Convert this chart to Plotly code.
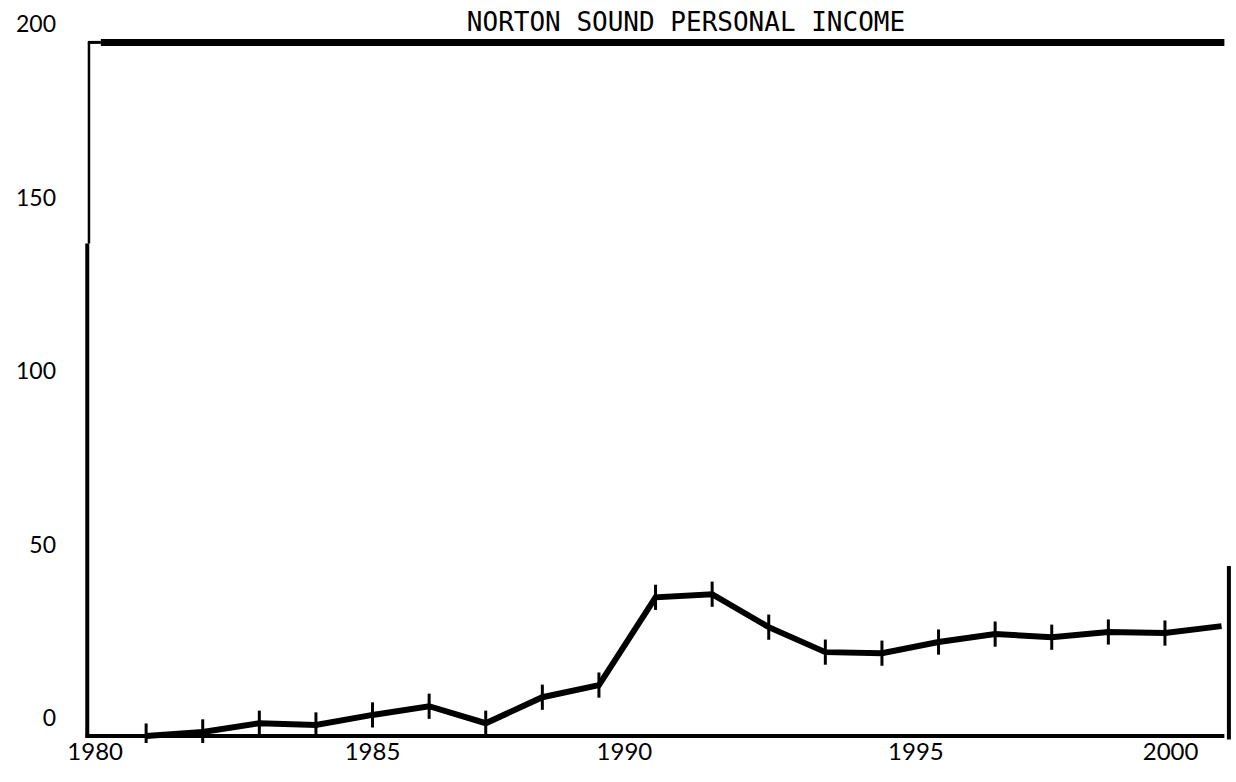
import plotly.graph_objects as go

# ---- data ----
years = [1981, 1982, 1983, 1984, 1985, 1986, 1987, 1988, 1989, 1990,
         1991, 1992, 1993, 1994, 1995, 1996, 1997, 1998, 1999, 2000]
income = [0.0, 1.2, 3.7, 3.2, 6.1, 8.6, 3.7, 11.2, 14.7, 40.0,
          40.9, 31.4, 24.2, 23.9, 27.1, 29.4, 28.5, 30.0, 29.7, 31.7]
y_ticks = [0, 50, 100, 150, 200]
y_tick_text = ["0", "50", "100", "150", "200"]
x_tick_text = ["1980", "1985", "1990", "1995", "2000"]
title_text = "NORTON SOUND PERSONAL INCOME"

# where the year labels sit under the axis in the original drawing
x_label_pos = [1980.1, 1985.0, 1989.45, 1994.6, 1999.1]

fig = go.Figure()
fig.add_trace(go.Scatter(
    x=years, y=income, mode="lines",
    line=dict(color="black", width=6),
    showlegend=False, hoverinfo="x+y",
))
# hand-drawn cross ticks on every plotted year except the final end point
fig.add_trace(go.Scatter(
    x=years[:-1], y=income[:-1], mode="markers",
    marker=dict(symbol="line-ns", size=18, line=dict(color="black", width=3)),
    showlegend=False, hoverinfo="skip",
))

black = "black"
shapes = [
    # top heavy rule
    dict(type="line", xref="x", yref="y", x0=1980.2, x1=2000.05, y0=200, y1=200,
         line=dict(color=black, width=7)),
    dict(type="line", xref="x", yref="y", x0=1979.97, x1=1980.2, y0=200, y1=200,
         line=dict(color=black, width=3)),
    # left axis: thin upper part, heavy lower part
    dict(type="line", xref="x", yref="y", x0=1979.99, x1=1979.99, y0=200, y1=142,
         line=dict(color=black, width=2.5)),
    dict(type="line", xref="x", yref="y", x0=1979.96, x1=1979.96, y0=142, y1=-0.5,
         line=dict(color=black, width=4)),
    # baseline
    dict(type="line", xref="x", yref="y", x0=1979.93, x1=2000.05, y0=0, y1=0,
         line=dict(color=black, width=4)),
    # right short rule
    dict(type="line", xref="x", yref="y", x0=2000.13, x1=2000.13, y0=49, y1=-1,
         line=dict(color=black, width=4)),
]

fig.update_layout(
    width=1236, height=782,
    margin=dict(l=85, r=2, t=32, b=39),
    paper_bgcolor="white", plot_bgcolor="white",
    shapes=shapes,
    title=dict(text=title_text, x=0.555, xanchor="center", y=0.972, yanchor="middle",
               font=dict(family="DejaVu Sans Mono", size=26, color="black")),
    xaxis=dict(range=[1979.92, 2000.22], showgrid=False, zeroline=False, showline=False,
               automargin=False,
               tickmode="array", tickvals=x_label_pos, ticktext=x_tick_text,
               ticks="", ticklabelstandoff=-8,
               tickfont=dict(family="Lato", size=24, color="black")),
    yaxis=dict(range=[-2, 203], showgrid=False, zeroline=False, showline=False,
               automargin=False,
               tickmode="array", tickvals=y_ticks, ticktext=y_tick_text,
               ticks="", ticklabelstandoff=28, ticklabelshift=-18,
               tickfont=dict(family="Lato", size=23, color="black")),
)

fig.write_html(
    "out.html",
    config={"displayModeBar": False},
    post_script="document.body.style.margin='0';document.body.style.overflow='hidden';",
)
